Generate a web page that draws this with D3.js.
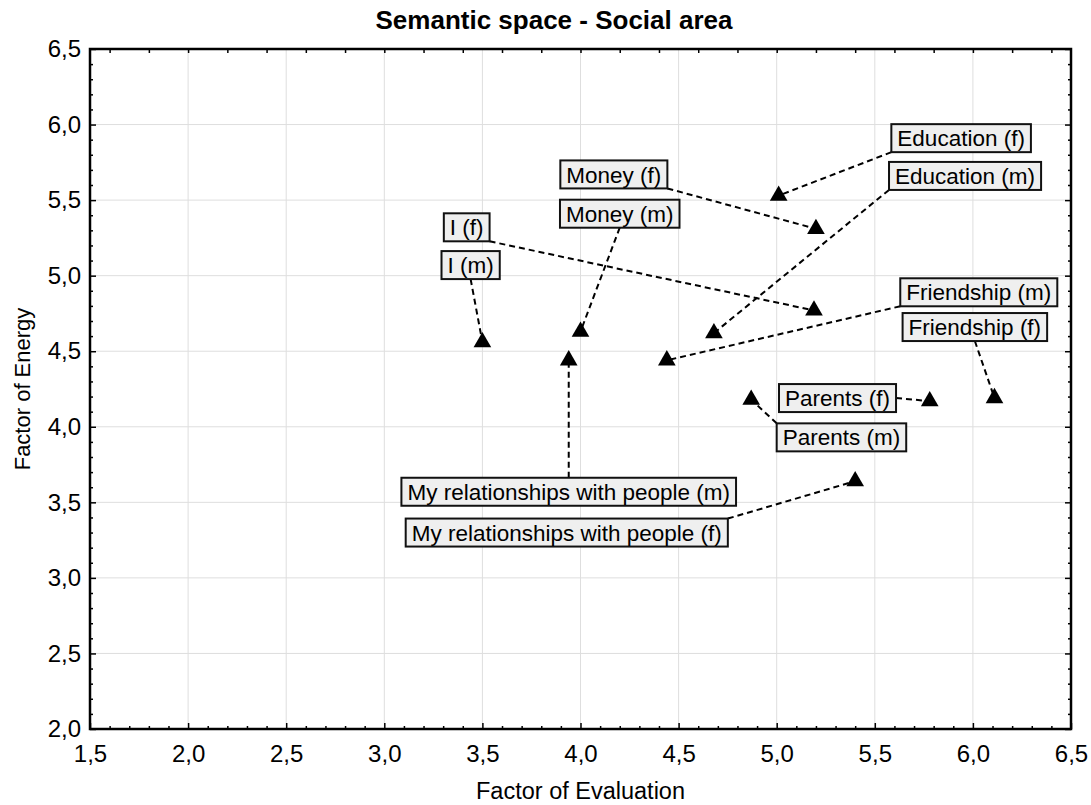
<!DOCTYPE html>
<html>
<head>
<meta charset="utf-8">
<script src="https://cdn.jsdelivr.net/npm/d3@7"></script>
<style>
  body { margin: 0; background: #fff; }
  svg { font-family: "Liberation Sans", Arial, sans-serif; }
</style>
</head>
<body>
<div id="chart"></div>
<script>
const names = [
  'Education (f)', 'Education (m)', 'Money (f)', 'Money (m)', 'I (f)', 'I (m)',
  'Friendship (m)', 'Friendship (f)', 'Parents (f)', 'Parents (m)',
  'My relationships with people (m)', 'My relationships with people (f)'
]
const evaluation = [5.01, 4.68, 5.20, 4.00, 5.19, 3.50, 4.44, 6.11, 5.78, 4.87, 3.94, 5.40]
const energy = [5.53, 4.62, 5.31, 4.63, 4.77, 4.56, 4.44, 4.19, 4.17, 4.18, 4.44, 3.64]
// where each label box sits, in axis units
const labelEval = [5.94, 5.96, 4.17, 4.20, 3.42, 3.44, 6.03, 6.01, 5.31, 5.33, 3.94, 3.93]
const labelEnergy = [5.91, 5.66, 5.67, 5.41, 5.32, 5.07, 4.89, 4.66, 4.19, 3.93, 3.57, 3.30]
const xTicks = [1.5, 2.0, 2.5, 3.0, 3.5, 4.0, 4.5, 5.0, 5.5, 6.0, 6.5]
const yTicks = [2.0, 2.5, 3.0, 3.5, 4.0, 4.5, 5.0, 5.5, 6.0, 6.5]

const width = 1091
const height = 805
const x = d3.scaleLinear().domain([1.5, 6.5]).range([90, 1071])
const y = d3.scaleLinear().domain([2, 6.5]).range([729, 49])
const fmt = d3.formatLocale({ decimal: ',', thousands: '.', grouping: [3], currency: ['', ''] }).format('.1f')

const xMinor = x.ticks(50).filter(d => !xTicks.some(t => Math.abs(t - d) < 1e-6))
const yMinor = y.ticks(45).filter(d => !yTicks.some(t => Math.abs(t - d) < 1e-6))
const topMinor = x.ticks(25)

const svg = d3
  .select('#chart')
  .append('svg')
  .attr('width', width)
  .attr('height', height)

// grid
const grid = svg.append('g').attr('stroke', '#dedede').attr('stroke-width', 1)
grid.selectAll('.gx')
  .data(xTicks.slice(1, -1))
  .join('line')
  .attr('x1', d => x(d)).attr('x2', d => x(d))
  .attr('y1', y(2)).attr('y2', y(6.5))
grid.selectAll('.gy')
  .data(yTicks.slice(1, -1))
  .join('line')
  .attr('x1', x(1.5)).attr('x2', x(6.5))
  .attr('y1', d => y(d)).attr('y2', d => y(d))

const styleAxis = g => {
  g.select('.domain').remove()
  g.selectAll('line').attr('stroke', '#000').attr('stroke-width', 1.5)
  g.selectAll('text').attr('fill', '#000').attr('font-size', 24)
  return g
}

svg.append('g')
  .attr('transform', `translate(0,${y(2)})`)
  .call(d3.axisBottom(x).tickValues(xTicks).tickSize(-6).tickPadding(16).tickFormat(fmt))
  .call(styleAxis)
svg.append('g')
  .attr('transform', `translate(0,${y(2)})`)
  .call(d3.axisBottom(x).tickValues(xMinor).tickSize(-3).tickFormat(''))
  .call(styleAxis)
svg.append('g')
  .attr('transform', `translate(${x(1.5)},0)`)
  .call(d3.axisLeft(y).tickValues(yTicks).tickSize(-6).tickPadding(9).tickFormat(fmt))
  .call(styleAxis)
svg.append('g')
  .attr('transform', `translate(${x(1.5)},0)`)
  .call(d3.axisLeft(y).tickValues(yMinor).tickSize(-3).tickFormat(''))
  .call(styleAxis)
svg.append('g')
  .attr('transform', `translate(${x(6.5)},0)`)
  .call(d3.axisRight(y).tickValues(yTicks).tickSize(-6).tickFormat(''))
  .call(styleAxis)
svg.append('g')
  .attr('transform', `translate(${x(6.5)},0)`)
  .call(d3.axisRight(y).tickValues(yMinor).tickSize(-3).tickFormat(''))
  .call(styleAxis)
svg.append('g')
  .attr('transform', `translate(0,${y(6.5)})`)
  .call(d3.axisTop(x).tickValues(topMinor).tickSize(-4).tickFormat(''))
  .call(styleAxis)

svg.append('rect')
  .attr('x', x(1.5)).attr('y', y(6.5))
  .attr('width', x(6.5) - x(1.5)).attr('height', y(2) - y(6.5))
  .attr('fill', 'none').attr('stroke', '#000').attr('stroke-width', 2.5)

// titles
svg.append('text')
  .attr('x', 554).attr('y', 29)
  .attr('text-anchor', 'middle')
  .attr('font-size', 26).attr('font-weight', 'bold')
  .text('Semantic space - Social area')
svg.append('text')
  .attr('x', (x(1.5) + x(6.5)) / 2).attr('y', 799)
  .attr('text-anchor', 'middle')
  .attr('font-size', 23.5)
  .text('Factor of Evaluation')
svg.append('text')
  .attr('transform', `translate(30,${(y(2) + y(6.5)) / 2}) rotate(-90)`)
  .attr('text-anchor', 'middle')
  .attr('font-size', 22)
  .text('Factor of Energy')

const points = names.map((name, i) => ({
  name,
  px: x(evaluation[i]),
  py: y(energy[i]),
  lx: x(labelEval[i]),
  ly: y(labelEnergy[i])
}))

// label boxes, sized from the text
const labelG = svg.append('g')
const boxes = labelG.selectAll('g')
  .data(points)
  .join('g')
boxes.append('rect')
boxes.append('text')
  .attr('x', d => d.lx)
  .attr('y', d => d.ly)
  .attr('dy', '0.36em')
  .attr('text-anchor', 'middle')
  .attr('font-size', 22.5)
  .text(d => d.name)
  .each(function (d) {
    const w = this.getComputedTextLength() + 12
    const h = 28
    d.x0 = d.lx - w / 2
    d.x1 = d.lx + w / 2
    d.y0 = d.ly - h / 2
    d.y1 = d.ly + h / 2
  })
boxes.select('rect')
  .attr('x', d => d.x0).attr('y', d => d.y0)
  .attr('width', d => d.x1 - d.x0).attr('height', d => d.y1 - d.y0)
  .attr('fill', '#efefef').attr('stroke', '#111').attr('stroke-width', 2)

// leader from nearest corner / side middle of the box
const anchor = d => {
  const ax = d.px < d.x0 ? d.x0 : d.px > d.x1 ? d.x1 : d.lx
  const ay = d.py < d.y0 ? d.y0 : d.py > d.y1 ? d.y1 : d.ly
  return [ax, ay]
}
svg.insert('g', () => labelG.node())
  .selectAll('line')
  .data(points)
  .join('line')
  .attr('x1', d => anchor(d)[0]).attr('y1', d => anchor(d)[1])
  .attr('x2', d => d.px).attr('y2', d => d.py)
  .attr('stroke', '#000').attr('stroke-width', 2)
  .attr('stroke-dasharray', '6,4')

svg.append('g')
  .selectAll('path')
  .data(points)
  .join('path')
  .attr('transform', d => `translate(${d.px},${d.py})`)
  .attr('d', d3.symbol(d3.symbolTriangle, 135))
  .attr('fill', '#000')
</script>
</body>
</html>
